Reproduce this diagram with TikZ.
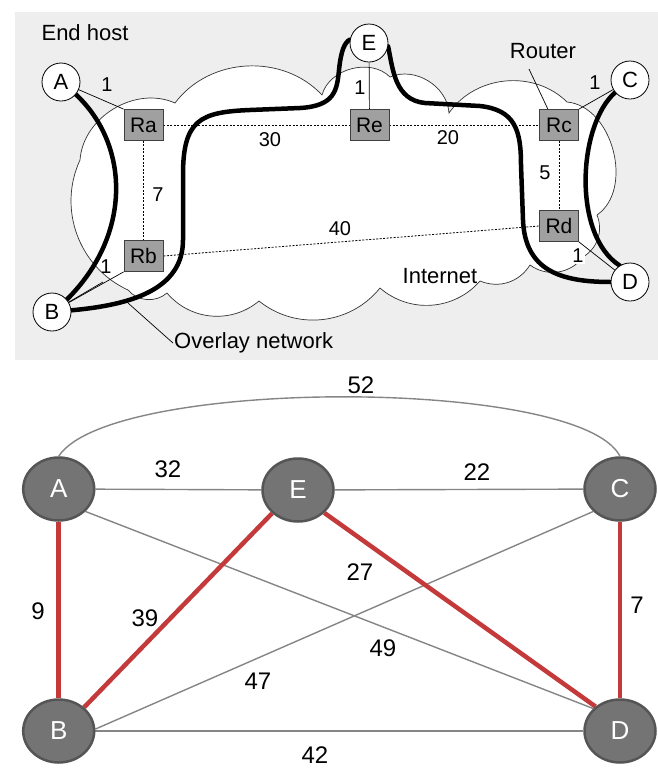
\documentclass[tikz,border=0pt]{standalone}
\usepackage{fontspec}
\setmainfont{Liberation Sans}
\usetikzlibrary{shapes.geometric,backgrounds}
\definecolor{panel}{HTML}{EEEEEE}
\definecolor{boxgray}{HTML}{A0A0A0}
\definecolor{nodegray}{HTML}{747474}
\definecolor{nodeedge}{HTML}{555555}
\definecolor{edgegray}{HTML}{858585}
\definecolor{mstred}{HTML}{C43A3A}
\begin{document}
\begin{tikzpicture}[x=1pt,y=-1pt,
  host/.style={circle,draw=black,line width=0.8pt,fill=white,minimum size=38pt,inner sep=0pt,font=\fontsize{22}{22}\selectfont},
  router/.style={rectangle,draw=black!75,line width=0.8pt,fill=boxgray,minimum width=39pt,minimum height=31pt,inner sep=0pt,font=\fontsize{21}{21}\selectfont},
  toplabel/.style={inner sep=1pt,font=\fontsize{22}{22}\selectfont},
  numlabel/.style={inner sep=1pt,font=\fontsize{20}{20}\selectfont},
  dotline/.style={line width=0.8pt,dash pattern=on 2pt off 1.5pt},
  thinline/.style={line width=0.7pt},
  overlay/.style={line width=4.5pt,line cap=round},
  cloud/.style={draw=black!80,line width=0.7pt,fill=white},
  gnode/.style={ellipse,draw=nodeedge,line width=2.5pt,fill=nodegray,minimum width=71pt,minimum height=63pt,inner sep=0pt,text=white,font=\fontsize{26}{26}\selectfont},
  gedge/.style={draw=edgegray,line width=1.4pt},
  redge/.style={draw=mstred,line width=4.5pt},
  wlabel/.style={inner sep=1pt,font=\fontsize{24}{24}\selectfont}
]
\useasboundingbox (0,0) rectangle (658,772);

% ---------- top panel nodes ----------
\node[host] (hA) at (61,82) {A};
\node[host] (hB) at (52,312) {B};
\node[host] (hE) at (369,43) {E};
\node[host] (hC) at (630,80) {C};
\node[host] (hD) at (630,282) {D};
\node[router] (Ra) at (143.5,125) {Ra};
\node[router] (Rb) at (143.5,256) {Rb};
\node[router] (Re) at (369.5,125) {Re};
\node[router] (Rc) at (559,125) {Rc};
\node[router] (Rd) at (559,226) {Rd};

\node[toplabel] (tEnd) at (85,33) {End host};
\node[toplabel] (tRouter) at (543,51) {Router};
\node[toplabel] (tInternet) at (440,276) {Internet};
\node[toplabel,anchor=west] (ovl) at (173,343) {Overlay network};

\node[numlabel] (nA) at (107,85) {1};
\node[numlabel] (nB) at (106,267) {1};
\node[numlabel] (nE) at (360,88) {1};
\node[numlabel] (nC) at (595,83) {1};
\node[numlabel,fill=white] (nD) at (578,256) {1};
\node[numlabel] (n30) at (270,140) {30};
\node[numlabel] (n20) at (448,138) {20};
\node[numlabel] (n7) at (158,195) {7};
\node[numlabel] (n5) at (545,173) {5};
\node[numlabel] (n40) at (340,229) {40};

\coordinate (rtip) at (529,69);
\coordinate (otip) at (128,303);
\coordinate (cloudpt) at (103,282);

% ---------- bottom graph nodes ----------
\node[gnode] (gA) at (58.7,489) {A};
\node[gnode] (gE) at (298,490) {E};
\node[gnode] (gC) at (620,489) {C};
\node[gnode] (gB) at (58.7,731) {B};
\node[gnode] (gD) at (620,731) {D};

\node[wlabel] (w52) at (361,385) {52};
\node[wlabel] (w32) at (168,469) {32};
\node[wlabel] (w22) at (477,472) {22};
\node[wlabel] (w27) at (360,572) {27};
\node[wlabel] (w9) at (38,611) {9};
\node[wlabel] (w39) at (145,618) {39};
\node[wlabel] (w7) at (637,605) {7};
\node[wlabel] (w49) at (383,648) {49};
\node[wlabel] (w47) at (258,681) {47};
\node[wlabel] (w42) at (315,755) {42};

\begin{scope}[on background layer]
  \fill[panel] (15,12) rectangle (658,360);
  % cloud
  \draw[cloud] (80,160) to[bend left=55] (175,103) to[bend left=50] (322,95)
    to[bend left=60] (390,77) to[bend left=55] (449,113) to[bend left=50] (567,102)
    to[bend left=70] (597,215) to[bend left=40] (583,257) to[bend left=45] (530,265)
    to[bend left=40] (480,281) to[bend left=45] (380,288) to[bend left=45] (259,301)
    to[bend left=45] (167,293) to[bend left=45] (128,290) to[bend left=45] (80,160) -- cycle;
  % router links
  \draw[dotline] (Ra) -- (Re);
  \draw[dotline] (Re) -- (Rc);
  \draw[dotline] (Ra) -- (Rb);
  \draw[dotline] (Rc) -- (Rd);
  \draw[dotline] (Rb.east) -- (Rd.west);
  % access links
  \draw[thinline] (hA) -- (Ra.north west);
  \draw[thinline] (hB) -- (Rb.south west);
  \draw[thinline] (hB) -- (cloudpt);
  \draw[thinline] (hE) -- (Re);
  \draw[thinline] (hC) -- (Rc.north east);
  \draw[thinline] (hD) -- (Rd.south east);
  \draw[thinline] (rtip) -- (Rc.125);
  \draw[thinline] (otip) -- (ovl.west);
  % overlay links
  \draw[overlay] (hA.-40) .. controls (130,145) and (132,235) .. (hB.40);
  \draw[overlay] (hB.5) .. controls (130,305) and (183,290) .. (183,240)
    -- (183,175) .. controls (183,120) and (200,112) .. (250,110)
    -- (300,108) .. controls (335,106) and (337,90) .. (339,70)
    .. controls (341,50) and (345,42) .. (hE.170);
  \draw[overlay] (hE.-10) .. controls (393,70) and (395,100) .. (425,103)
    -- (480,106) .. controls (515,110) and (521,130) .. (521,165)
    -- (523,220) .. controls (525,270) and (560,282) .. (hD.180);
  \draw[overlay] (hC.220) .. controls (578,125) and (572,235) .. (hD.122);
  % bottom graph edges
  \draw[gedge] (gA.north) .. controls (110,377) and (580,377) .. (gC.north);
  \draw[gedge] (gA) -- (gE);
  \draw[gedge] (gE) -- (gC);
  \draw[gedge] (gA.-40) -- (gD.140);
  \draw[gedge] (gB.3) -- (gC.220);
  \draw[gedge] (gB) -- (gD);
  \draw[redge] (gA) -- (gB);
  \draw[redge] (gB.43) -- (gE.222);
  \draw[redge] (gE.-41) -- (gD.135);
  \draw[redge] (gC) -- (gD);
\end{scope}
\end{tikzpicture}
\end{document}
